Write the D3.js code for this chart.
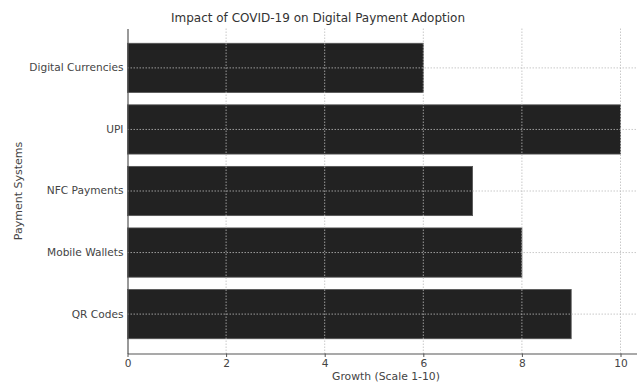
<!DOCTYPE html>
<html>
<head>
<meta charset="utf-8">
<script src="https://cdn.jsdelivr.net/npm/d3@7"></script>
<style>
  body { margin: 0; background: #fff; }
  svg { display: block; font-family: "DejaVu Sans", sans-serif; }
</style>
</head>
<body>
<svg id="chart" width="637" height="383"></svg>
<script>
const categories = ["QR Codes", "Mobile Wallets", "NFC Payments", "UPI", "Digital Currencies"];
const growth = [9, 8, 7, 10, 6];
const xTicks = [0, 2, 4, 6, 8, 10];
const title = "Impact of COVID-19 on Digital Payment Adoption";
const xLabel = "Growth (Scale 1-10)";
const yLabel = "Payment Systems";

(function () {
const svg = d3.select("#chart");
const mLeft = 127.5, mBottom = 353.5, mTop = 28.5;
const pxPerUnit = 49.3;

const x = d3.scaleLinear().domain([0, 10.5]).range([mLeft, mLeft + 10.5 * pxPerUnit]);
const y = d3.scaleBand().domain(categories.slice().reverse()).range([mTop, mBottom])
  .paddingInner(0.2).paddingOuter(0.24);

// bars
svg.append("g").selectAll("rect").data(categories).join("rect")
  .attr("x", x(0))
  .attr("y", d => y(d))
  .attr("width", (d, i) => x(growth[i]) - x(0))
  .attr("height", y.bandwidth())
  .attr("fill", "#222222")
  .attr("stroke", "#555")
  .attr("stroke-width", 0.8);

// grid (drawn over bars)
const grid = svg.append("g");
grid.selectAll("line.v").data(xTicks.slice(1)).join("line")
  .attr("x1", d => x(d)).attr("x2", d => x(d))
  .attr("y1", mTop).attr("y2", mBottom)
  .attr("stroke", "#bbb").attr("stroke-width", 0.8).attr("stroke-dasharray", "1.5,1.5");
grid.selectAll("line.h").data(categories).join("line")
  .attr("x1", mLeft).attr("x2", 637)
  .attr("y1", d => y(d) + y.bandwidth() / 2).attr("y2", d => y(d) + y.bandwidth() / 2)
  .attr("stroke", "#bbb").attr("stroke-width", 0.8).attr("stroke-dasharray", "1.5,1.5");

// axes
const xAxis = svg.append("g").attr("transform", `translate(0,${mBottom})`)
  .call(d3.axisBottom(x).tickValues(xTicks).tickSize(3.5).tickPadding(2).tickSizeOuter(0).tickFormat(d3.format("d")));
const yAxis = svg.append("g").attr("transform", `translate(${mLeft},0)`)
  .call(d3.axisLeft(y).tickSize(0).tickPadding(4).tickSizeOuter(0));

[xAxis, yAxis].forEach(a => {
  a.select(".domain").attr("stroke", "#555").attr("stroke-width", 1.2);
  a.selectAll(".tick line").attr("stroke", "#555");
  a.selectAll(".tick text").attr("fill", "#444").attr("font-size", 10.6)
    .attr("font-family", "DejaVu Sans, sans-serif");
});

// labels
svg.append("text").attr("x", 318).attr("y", 22)
  .attr("text-anchor", "middle").attr("font-size", 12).attr("fill", "#333").text(title);
svg.append("text").attr("x", 386).attr("y", 380)
  .attr("text-anchor", "middle").attr("font-size", 10.8).attr("fill", "#444").text(xLabel);
svg.append("text").attr("transform", `translate(22,${(mTop + mBottom) / 2}) rotate(-90)`)
  .attr("text-anchor", "middle").attr("font-size", 11).attr("fill", "#444").text(yLabel);
})();
</script>
</body>
</html>
